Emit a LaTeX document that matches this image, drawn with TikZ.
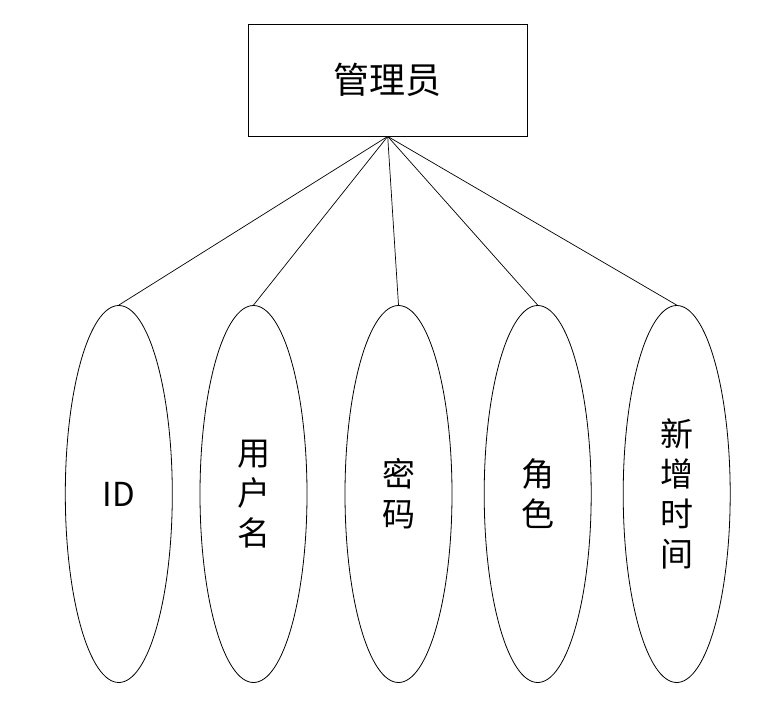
\documentclass[tikz,border=0pt]{standalone}
\usepackage{fontspec}
\setmainfont{Noto Sans CJK SC}
\usetikzlibrary{shapes.geometric}
\begin{document}
\begin{tikzpicture}[x=1pt,y=-1pt,
  attr/.style={draw, ellipse, minimum width=107pt, minimum height=377pt, inner sep=0pt, align=center, font=\fontsize{33}{40}\selectfont},
  ent/.style={draw, rectangle, minimum width=279pt, minimum height=112pt, inner sep=0pt, font=\fontsize{36}{40}\selectfont},
  conn/.style={draw, line width=0.7pt},
  every node/.append style={line width=0.8pt}]
\useasboundingbox (0,0) rectangle (771,704);
\node[ent] (m) at (387.7,80) {管理员};
\node[attr] (a1) at (118.8,494) {ID};
\node[attr] (a2) at (253.5,494) {用\\户\\名};
\node[attr] (a3) at (398.5,494) {密\\码};
\node[attr] (a4) at (537.7,494) {角\\色};
\node[attr] (a5) at (676.7,494) {新\\增\\时\\间};
\foreach \i in {1,...,5} {\path[conn] (m.south) -- (a\i.north);}
\end{tikzpicture}
\end{document}
